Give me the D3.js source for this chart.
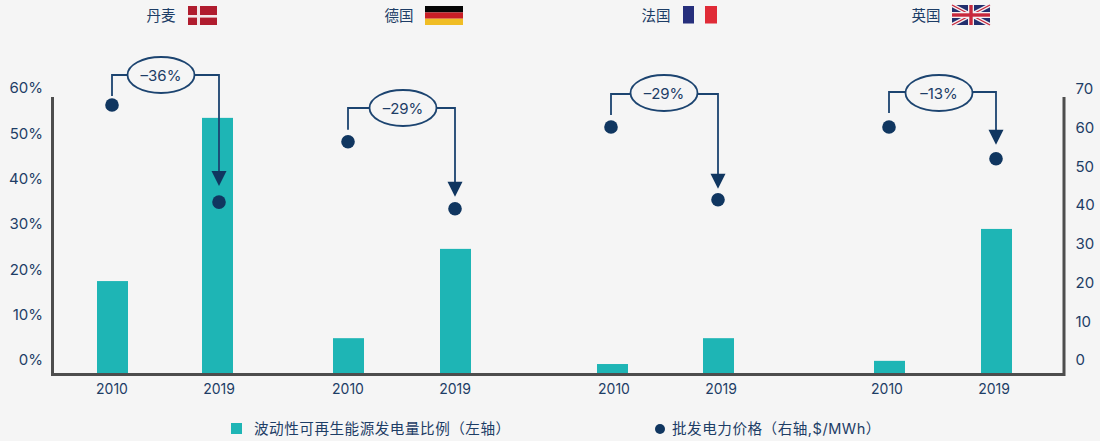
<!DOCTYPE html>
<html><head><meta charset="utf-8">
<script src="https://cdn.jsdelivr.net/npm/d3@7"></script>
<style>
html,body{margin:0;padding:0;background:#f5f5f5;}
svg{display:block;}
text{font-family:Inter,"Noto Sans CJK SC",sans-serif;fill:#1d3d66;}
</style></head><body>
<svg id="c" width="1100" height="441"></svg>
<script>
// ---- data ----
const countries = ["丹麦","德国","法国","英国"];
const years = ["2010","2019"];
const shareValues = [20.5,56.5, 7.9,27.6, 2.2,7.9, 2.9,32];      // % left axis
const priceValues = [69.5,44.4, 60,42.7, 63.8,45, 63.8,55.6];    // $/MWh right axis
const changes = ["–36%","–29%","–29%","–13%"];
const leftTicks = [0,10,20,30,40,50,60];
const rightTicks = [0,10,20,30,40,50,60,70];
const legendLabels = ["波动性可再生能源发电量比例（左轴）","批发电力价格（右轴,$/MWh）"];

// ---- layout ----
const slotKeys = d3.range(8);
const W=1100,H=441, BG="#f5f5f5", TEAL="#1eb5b5", NAVY="#103660", LINE="#4d4d4d", TXT="#1d3d66";
const xBar = d3.scaleOrdinal(slotKeys,[112.5,217.5,348.5,455.5,612.5,718.5,889.5,996.5]);
const xDot = d3.scaleOrdinal(slotKeys,[112,219,348,455,611,718,889,996]);
const xLab = d3.scaleOrdinal(slotKeys,[112,219,348,455,614,721,887,994]);
const yL = d3.scaleLinear([0,60],[374,102]);
const yR = d3.scaleLinear([0,70],[374,103]);
const tickShift = -14;
const barW = 31;
const svg = d3.select("#c");
svg.append("rect").attr("width",W).attr("height",H).attr("fill",BG);

// bars
svg.append("g").selectAll("rect").data(shareValues).join("rect")
  .attr("x",(d,i)=>xBar(i)-barW/2).attr("width",barW)
  .attr("y",d=>yL(d)).attr("height",d=>yL(0)-yL(d)+0.5).attr("fill",TEAL);

// axes frame
const axisTop=97, axisX0=52.5, axisX1=1064, axisY=374.5;
svg.append("path").attr("d",`M${axisX0},${axisTop}V${axisY}H${axisX1}V${axisTop}`)
  .attr("fill","none").attr("stroke",LINE).attr("stroke-width",3);

// tick labels
const gl = svg.append("g").attr("transform",`translate(43,${tickShift})`)
  .call(d3.axisLeft(yL).tickValues(leftTicks).tickFormat(d=>d+"%").tickSize(0).tickPadding(0));
const gr = svg.append("g").attr("transform",`translate(1075.5,${tickShift})`)
  .call(d3.axisRight(yR).tickValues(rightTicks).tickSize(0).tickPadding(0));
[gl,gr].forEach(g=>{g.select(".domain").remove();
  g.selectAll("text").attr("font-size",15).attr("font-family",null).attr("fill",TXT);});
svg.append("g").selectAll("text").data(slotKeys).join("text")
  .attr("x",i=>xLab(i)).attr("y",394).attr("text-anchor","middle")
  .attr("font-size",14).text(i=>years[i%2]);

// callouts
const callLayout=[
 {cx:161,cy:75,ly:75,ry:75,startGap:9,tipGap:16},
 {cx:403,cy:108,ly:108,ry:108,startGap:12,tipGap:12},
 {cx:664,cy:93,ly:94,ry:94,startGap:12,tipGap:11},
 {cx:939,cy:93,ly:92,ry:92,startGap:14,tipGap:14}];
const gc=svg.append("g");
changes.forEach((t,k)=>{
  const L=callLayout[k], a=xDot(k*2), b=xDot(k*2+1);
  const ya=yR(priceValues[k*2]), yb=yR(priceValues[k*2+1]);
  const tip=yb-L.tipGap;
  gc.append("path").attr("fill","none").attr("stroke","#1c4470").attr("stroke-width",1.8)
    .attr("d",`M${a},${ya-L.startGap}V${L.ly}H${L.cx}`);
  gc.append("path").attr("fill","none").attr("stroke","#1c4470").attr("stroke-width",1.8)
    .attr("d",`M${L.cx},${L.ry}H${b}V${tip-8}`);
  gc.append("path").attr("fill",NAVY).attr("d",`M${b-7.5},${tip-15}H${b+7.5}L${b},${tip}Z`);
  gc.append("ellipse").attr("cx",L.cx).attr("cy",L.cy).attr("rx",33.5).attr("ry",18)
    .attr("fill",BG).attr("stroke","#1c4470").attr("stroke-width",1.8);
  gc.append("text").attr("x",L.cx).attr("y",L.cy+5.5).attr("text-anchor","middle")
    .attr("font-size",15).text(t);
});

// dots
svg.append("g").selectAll("circle").data(priceValues).join("circle")
  .attr("cx",(d,i)=>xDot(i)).attr("cy",d=>yR(d)).attr("r",6.8).attr("fill",NAVY);

// country headers
const headX=[161,399,656,926];
svg.append("g").selectAll("text").data(countries).join("text")
  .attr("x",(d,i)=>headX[i]).attr("y",21).attr("text-anchor","middle")
  .attr("font-size",14.5).text(d=>d);

// flags
const f=svg.append("g");
function r(x,y,w,h,c){f.append("rect").attr("x",x).attr("y",y).attr("width",w).attr("height",h).attr("fill",c);}
r(188,6,29,19,"#b01c2e"); r(197,6,3,19,"#f2e8ea"); r(188,15,29,2.6,"#f2e8ea");
r(425,6,38,6.4,"#050505"); r(425,12.4,38,6.3,"#c81e26"); r(425,18.7,38,6.3,"#f0bd25");
r(683,6,11,17.5,"#262f7c"); r(705,6,12,17.5,"#e02b37");
// UK
r(952,5,38,20,"#232f6e");
const uk=f.append("g");
[[952,5,990,25],[952,25,990,5]].forEach(p=>{
  uk.append("line").attr("x1",p[0]).attr("y1",p[1]).attr("x2",p[2]).attr("y2",p[3]).attr("stroke","#f4f0f2").attr("stroke-width",4);
  uk.append("line").attr("x1",p[0]).attr("y1",p[1]).attr("x2",p[2]).attr("y2",p[3]).attr("stroke","#c8283c").attr("stroke-width",1.4);
});
r(952,12,38,6,"#f4f0f2"); r(968,5,6,20,"#f4f0f2");
r(952,13.3,38,3.4,"#c8283c"); r(969.3,5,3.4,20,"#c8283c");

// legend
svg.append("rect").attr("x",231).attr("y",423).attr("width",11).attr("height",11).attr("fill",TEAL);
svg.append("circle").attr("cx",660).attr("cy",429).attr("r",5).attr("fill",NAVY);
svg.append("text").attr("x",254).attr("y",434).attr("font-size",14.6).attr("letter-spacing",0.5).text(legendLabels[0]);
svg.append("text").attr("x",672).attr("y",434).attr("font-size",14.6).attr("letter-spacing",0.5).text(legendLabels[1]);
</script></body></html>
